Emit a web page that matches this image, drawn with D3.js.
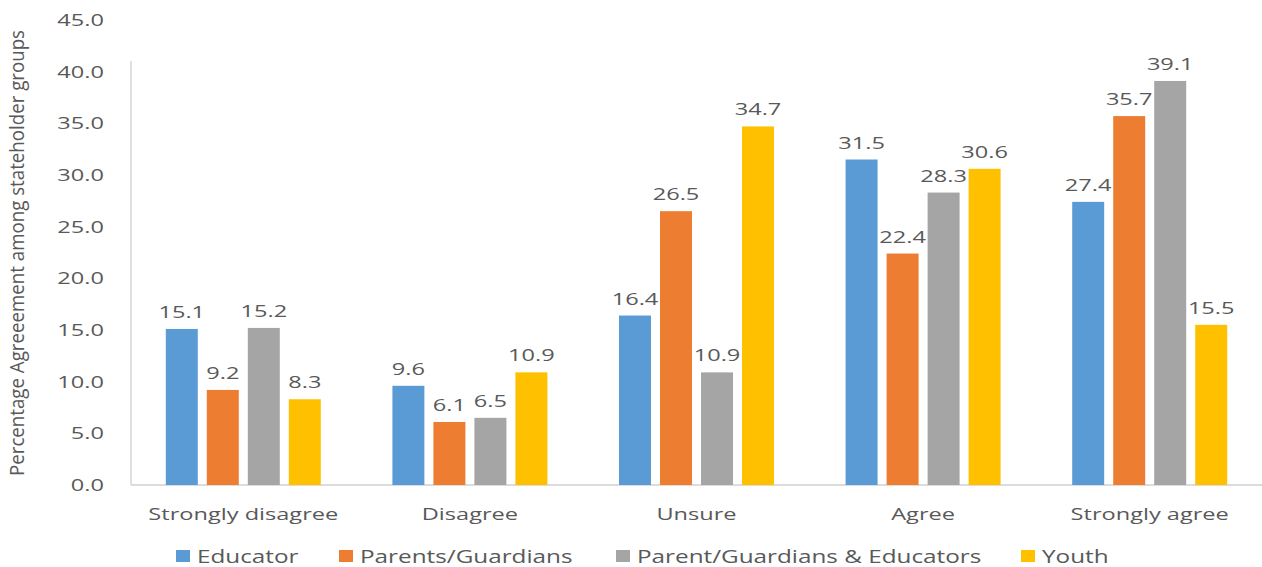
<!DOCTYPE html>
<html>
<head>
<meta charset="utf-8">
<script src="https://cdn.jsdelivr.net/npm/d3@7"></script>
<style>
  html, body { margin: 0; padding: 0; background: #fff; }
  svg { display: block; }
  text { font-family: "Open Sans", "Noto Sans", sans-serif; fill: #595959; }
</style>
</head>
<body>
<svg id="chart" width="1262" height="567"></svg>
<script>
const categories = ["Strongly disagree", "Disagree", "Unsure", "Agree", "Strongly agree"];
const seriesNames = ["Educator", "Parents/Guardians", "Parent/Guardians & Educators", "Youth"];
const educator = [15.1, 9.6, 16.4, 31.5, 27.4];
const parents = [9.2, 6.1, 26.5, 22.4, 35.7];
const parentEducators = [15.2, 6.5, 10.9, 28.3, 39.1];
const youth = [8.3, 10.9, 34.7, 30.6, 15.5];
const yTicks = [0, 5, 10, 15, 20, 25, 30, 35, 40, 45];
const yTitle = "Percentage Agreeement among stateholder groups";
const colors = ["#5B9BD5", "#ED7D31", "#A5A5A5", "#FFC000"];

const seriesValues = [educator, parents, parentEducators, youth];

const svg = d3.select("#chart");
const fs = 17;

// measure horizontal stretch so text matches the reference's wide look
const probe = svg.append("text").attr("font-size", fs).text("Strongly disagree");
const sx = 190 / probe.node().getComputedTextLength();
probe.remove();

const x = d3.scaleBand().domain(categories).range([130, 1263]).padding(0);
const x1 = d3.scaleBand().domain(seriesNames).range([-77.5, 77.5]).paddingInner(0.22).paddingOuter(0);
const y = d3.scaleLinear().domain([0, 45]).range([485, 20]);

// axis lines
svg.append("line").attr("x1", 131).attr("x2", 131).attr("y1", 61).attr("y2", y(0))
  .attr("stroke", "#D0D0D0").attr("stroke-width", 1.3);
svg.append("line").attr("x1", 131).attr("x2", 1262).attr("y1", y(0)).attr("y2", y(0))
  .attr("stroke", "#D0D0D0").attr("stroke-width", 1.3);

// y tick labels
svg.append("g").selectAll("text").data(yTicks).join("text")
  .attr("font-size", fs)
  .attr("text-anchor", "end")
  .attr("dy", "0.36em")
  .attr("transform", d => `translate(104,${y(d)}) scale(${sx},1)`)
  .text(d => d.toFixed(1));

// bars
const groups = svg.append("g").selectAll("g").data(categories).join("g")
  .attr("transform", c => `translate(${x(c) + x.bandwidth() / 2},0)`);

groups.selectAll("rect")
  .data((c, i) => seriesNames.map((s, j) => ({ s, j, v: seriesValues[j][i] })))
  .join("rect")
  .attr("x", d => x1(d.s))
  .attr("width", x1.bandwidth())
  .attr("y", d => y(d.v))
  .attr("height", d => y(0) - y(d.v))
  .attr("fill", d => colors[d.j]);

groups.selectAll("text.val")
  .data((c, i) => seriesNames.map((s, j) => ({ s, j, v: seriesValues[j][i] })))
  .join("text")
  .attr("class", "val")
  .attr("font-size", fs)
  .attr("text-anchor", "middle")
  .attr("transform", d => `translate(${x1(d.s) + x1.bandwidth() / 2},${y(d.v) - 11}) scale(${sx},1)`)
  .text(d => d.v.toFixed(1));

// category labels
svg.append("g").selectAll("text").data(categories).join("text")
  .attr("font-size", fs)
  .attr("text-anchor", "middle")
  .attr("transform", c => `translate(${x(c) + x.bandwidth() / 2},520) scale(${sx},1)`)
  .text(c => c);

// y title
svg.append("text")
  .attr("font-size", 17)
  .attr("text-anchor", "middle")
  .attr("textLength", 446)
  .attr("lengthAdjust", "spacingAndGlyphs")
  .attr("transform", "translate(24,253) rotate(-90) scale(1,1.15)")
  .text(yTitle);

// legend
const legendSquareX = [176, 339, 616, 1021];
const legend = svg.append("g").selectAll("g").data(seriesNames).join("g");
legend.append("rect")
  .attr("x", (d, i) => legendSquareX[i])
  .attr("y", 550)
  .attr("width", 14)
  .attr("height", 12)
  .attr("fill", (d, i) => colors[i]);
legend.append("text")
  .attr("font-size", 17.5)
  .attr("transform", (d, i) => `translate(${legendSquareX[i] + 21},563) scale(${sx},1)`)
  .text(d => d);
</script>
</body>
</html>
